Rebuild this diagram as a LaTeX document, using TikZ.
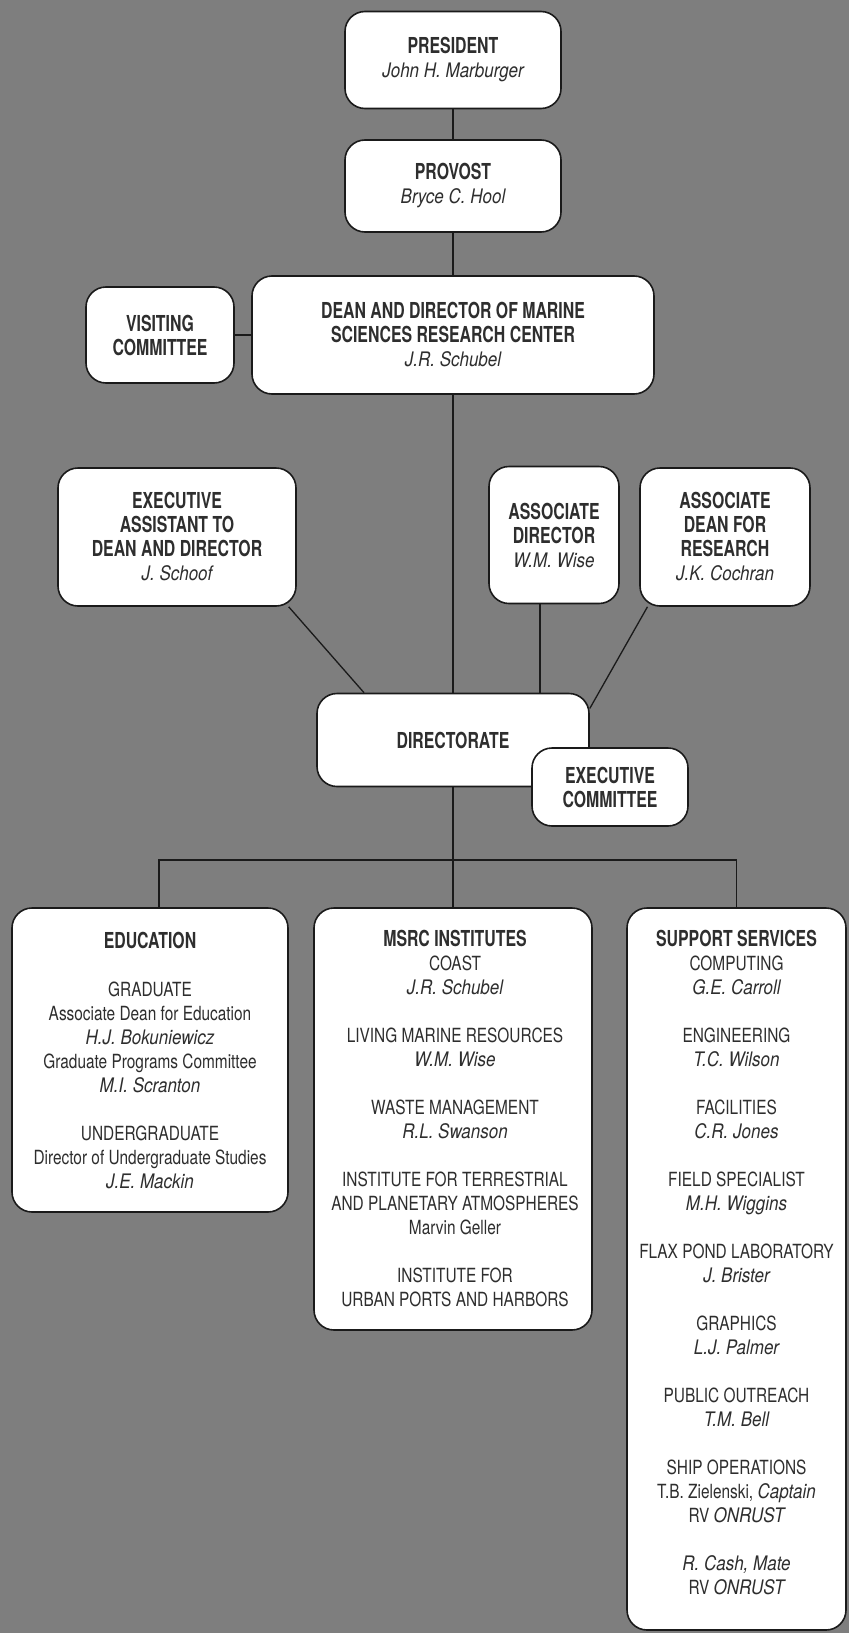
\documentclass[tikz,border=0pt]{standalone}
\usepackage{fontspec}
\setmainfont{TeX Gyre Heros}[FakeStretch=0.79, BoldFeatures={FakeStretch=0.72}, ItalicFeatures={FakeStretch=0.85}]
\usepackage{xcolor}
\usepackage{tikz}
\usetikzlibrary{backgrounds,calc}
\definecolor{paper}{HTML}{7E7E7E}
\definecolor{ink}{HTML}{1A1A1A}
\definecolor{body}{HTML}{2E2E2E}
\newcommand{\hd}[1]{{\fontsize{22bp}{24bp}\selectfont\bfseries #1}}
\newcommand{\nm}[1]{{\fontsize{20bp}{24bp}\selectfont\itshape #1}}

\begin{document}
\begin{tikzpicture}[
    x=1bp, y=-1bp,
    every node/.style={font=\fontsize{19.5bp}{24bp}\selectfont, text=body},
    box/.style={rectangle, rounded corners=20bp, draw=ink, fill=white, line width=1.6bp, align=center, inner sep=0pt, minimum width=#1},
    txt/.style={align=center, inner sep=0pt, anchor=north},
    link/.style={draw=ink, line width=1.3bp}
]
    % Top of the chart
    \node[box=216bp, minimum height=97bp] (pres) at (453,60) {\hd{PRESIDENT}\\\nm{John H. Marburger}};
    \node[box=216bp, minimum height=92bp] (prov) at (453,186) {\hd{PROVOST}\\\nm{Bryce C. Hool}};
    \node[box=402bp, minimum height=118bp] (dean) at (453,335) {\hd{DEAN AND DIRECTOR OF MARINE}\\\hd{SCIENCES RESEARCH CENTER}\\\nm{J.R. Schubel}};
    \node[box=148bp, minimum height=96bp] (visit) at (160,335) {\hd{VISITING}\\\hd{COMMITTEE}};

    % Staff under the dean
    \node[box=238bp, minimum height=138bp] (exasst) at (177,537) {\hd{EXECUTIVE}\\\hd{ASSISTANT TO}\\\hd{DEAN AND DIRECTOR}\\\nm{J. Schoof}};
    \node[box=130bp, minimum height=137bp] (assocdir) at (554,535) {\hd{ASSOCIATE}\\\hd{DIRECTOR}\\\nm{W.M. Wise}};
    \node[box=170bp, minimum height=138bp] (assocdean) at (725,537) {\hd{ASSOCIATE}\\\hd{DEAN FOR}\\\hd{RESEARCH}\\\nm{J.K. Cochran}};

    \node[box=272bp, minimum height=93bp] (direct) at (453,740) {\hd{DIRECTORATE}};
    \node[box=156bp, minimum height=78bp] (execcom) at (610,787) {\hd{EXECUTIVE}\\\hd{COMMITTEE}};

    % Divisions
    \node[box=276bp, minimum height=304bp] (edu) at (150,1060) {};
    \node[box=278bp, minimum height=422bp] (msrc) at (453,1119) {};
    \node[box=219bp, minimum height=722bp] (supp) at (736.5,1269) {};

    \node[txt] (edutxt) at (150,932) {\hd{EDUCATION}\\[24bp]
        GRADUATE\\Associate Dean for Education\\\nm{H.J. Bokuniewicz}\\
        Graduate Programs Committee\\\nm{M.I. Scranton}\\[24bp]
        UNDERGRADUATE\\Director of Undergraduate Studies\\\nm{J.E. Mackin}};
    \node[txt] (msrctxt) at (455,930) {\hd{MSRC INSTITUTES}\\
        COAST\\\nm{J.R. Schubel}\\[24bp]
        LIVING MARINE RESOURCES\\\nm{W.M. Wise}\\[24bp]
        WASTE MANAGEMENT\\\nm{R.L. Swanson}\\[24bp]
        INSTITUTE FOR TERRESTRIAL\\AND PLANETARY ATMOSPHERES\\Marvin Geller\\[24bp]
        INSTITUTE FOR\\URBAN PORTS AND HARBORS};
    \node[txt] (supptxt) at (736.5,930) {\hd{SUPPORT SERVICES}\\
        COMPUTING\\\nm{G.E. Carroll}\\[24bp]
        ENGINEERING\\\nm{T.C. Wilson}\\[24bp]
        FACILITIES\\\nm{C.R. Jones}\\[24bp]
        FIELD SPECIALIST\\\nm{M.H. Wiggins}\\[24bp]
        FLAX POND LABORATORY\\\nm{J. Brister}\\[24bp]
        GRAPHICS\\\nm{L.J. Palmer}\\[24bp]
        PUBLIC OUTREACH\\\nm{T.M. Bell}\\[24bp]
        SHIP OPERATIONS\\T.B. Zielenski, \nm{Captain}\\RV \nm{ONRUST}\\[24bp]
        \nm{R. Cash, Mate}\\RV \nm{ONRUST}};

    \coordinate (bus) at (453,860);

    % Lines
    \begin{scope}[on background layer]
        \fill[paper] (0,0) rectangle (849,1633);
        \draw[link] (pres) -- (prov);
        \draw[link] (prov) -- (dean);
        \draw[link] (visit) -- (dean);
        \draw[link] (dean) -- (direct);
        \draw[link] (exasst.-32.3) -- (direct.152.7);
        \draw[link] ([xshift=-14bp]assocdir.south) -- ([xshift=-14bp]assocdir.south |- direct.north);
        \draw[link] (assocdean.222.6) -- (direct.13);
        \draw[link] (direct) -- (msrc);
        \draw[link] ([xshift=9bp]edu.north) |- (bus) -| (supp.north);
    \end{scope}
\end{tikzpicture}
\end{document}
